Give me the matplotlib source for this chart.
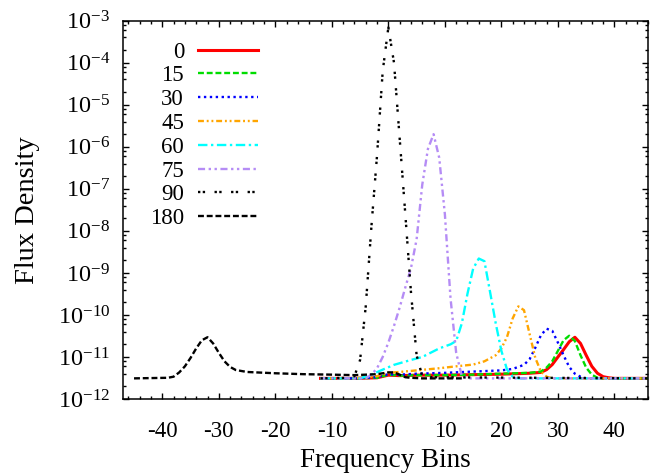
import matplotlib
matplotlib.use("Agg")
import matplotlib.pyplot as plt
from matplotlib.ticker import MultipleLocator, LogLocator, LogFormatterMathtext, NullFormatter

plt.rcParams['font.family'] = ['Liberation Serif', 'DejaVu Serif']
plt.rcParams['mathtext.fontset'] = 'custom'
plt.rcParams['mathtext.rm'] = 'Liberation Serif'
plt.rcParams['mathtext.it'] = 'Liberation Serif:italic'
plt.rcParams['mathtext.bf'] = 'Liberation Serif:bold'
plt.rcParams['axes.unicode_minus'] = False

# --- data (frequency bin, flux density) ---
x_0 = [-12, -6, -2, 0, 2, 5, 10, 15, 20, 25, 27, 28, 29, 30, 31, 32, 33, 34, 35, 36, 37, 38, 39, 40, 46]
y_0 = [3.1e-12, 3.1e-12, 3.2e-12, 3.7e-12, 3.6e-12, 3.7e-12, 3.7e-12, 3.8e-12, 3.9e-12, 4.1e-12,
       4.3e-12, 5.0e-12, 6.6e-12, 1.0e-11, 1.5e-11, 2.3e-11, 2.95e-11, 2.1e-11, 1.1e-11, 6.0e-12,
       4.1e-12, 3.4e-12, 3.2e-12, 3.1e-12, 3.1e-12]

x_15 = [-12, -6, -2, 0, 2, 5, 10, 15, 20, 25, 27, 28, 29, 30, 31, 32, 33, 34, 35, 36, 37, 38, 46]
y_15 = [3.1e-12, 3.1e-12, 3.2e-12, 3.8e-12, 3.6e-12, 3.7e-12, 3.7e-12, 3.8e-12, 4.0e-12, 4.2e-12,
        4.5e-12, 5.6e-12, 7.9e-12, 1.4e-11, 2.5e-11, 3.2e-11, 2.4e-11, 1.1e-11, 5.6e-12, 3.8e-12,
        3.2e-12, 3.1e-12, 3.1e-12]

x_30 = [-12, -6, -2, 0, 2, 5, 10, 15, 20, 22, 24, 25, 26, 27, 28, 29, 30, 31, 32, 33, 34, 35, 46]
y_30 = [3.1e-12, 3.1e-12, 3.3e-12, 3.9e-12, 3.8e-12, 4.0e-12, 4.2e-12, 4.5e-12, 4.8e-12, 5.2e-12,
        6.5e-12, 8.9e-12, 1.66e-11, 3.3e-11, 4.7e-11, 4.2e-11, 2.2e-11, 1.1e-11, 5.8e-12, 4.0e-12,
        3.4e-12, 3.1e-12, 3.1e-12]

x_45 = [-12, -6, -2, 0, 2, 5, 9, 12, 15, 17, 19, 20, 21, 22, 23, 24, 25, 26, 27, 28, 29, 46]
y_45 = [3.1e-12, 3.1e-12, 3.5e-12, 4.2e-12, 4.4e-12, 4.8e-12, 5.4e-12, 6.0e-12, 6.6e-12, 7.9e-12,
        1.1e-11, 1.6e-11, 3.0e-11, 8.3e-11, 1.6e-10, 1.3e-10, 3.5e-11, 9.5e-12, 4.5e-12, 3.4e-12,
        3.1e-12, 3.1e-12]

x_60 = [-12, -5, -3, -1, 1, 4, 6, 9, 11, 12, 13, 14, 15, 16, 17, 18, 19, 20, 21, 22, 23, 46]
y_60 = [3.1e-12, 3.1e-12, 3.8e-12, 5.0e-12, 6.5e-12, 8.5e-12, 1.0e-11, 1.6e-11, 2.0e-11, 2.4e-11,
        6.3e-11, 3.2e-10, 1.26e-9, 2.2e-9, 1.9e-9, 3.5e-10, 6.3e-11, 1.4e-11, 5.0e-12, 3.4e-12,
        3.1e-12, 3.1e-12]

x_75 = [-12, -4, -3, -2, -1, 0, 1, 2, 3, 4, 5, 6, 7, 8, 9, 10, 11, 12, 13, 14, 46]
y_75 = [3.1e-12, 3.1e-12, 3.8e-12, 5.4e-12, 1.0e-11, 2.2e-11, 5.5e-11, 1.5e-10, 4.5e-10, 1.3e-9,
        6.3e-9, 1.26e-7, 8.9e-7, 2.0e-6, 5.5e-7, 2.5e-8, 2.5e-10, 1.26e-11, 3.5e-12, 3.1e-12, 3.1e-12]

x_90 = [-12, -7, -6, -5, -4, -3, -2, -1, 0, 1, 2, 3, 4, 5, 6, 7, 46]
y_90 = [3.1e-12, 3.2e-12, 3.5e-12, 8.5e-12, 1.6e-10, 1.26e-8, 6.3e-7, 6.3e-5, 6.9e-4, 1.0e-4,
        1.6e-6, 2.5e-8, 3.5e-10, 1.1e-11, 3.5e-12, 3.3e-12, 3.1e-12]

x_180 = [-45, -39, -38, -37, -36, -35, -34, -33, -32, -31, -30, -29, -28, -27, -25, -20, -15, -10,
         -6, -2, 0, 1, 2, 3, 4, 6, 13]
y_180 = [3.1e-12, 3.2e-12, 3.4e-12, 4.3e-12, 6.0e-12, 9.5e-12, 1.6e-11, 2.5e-11, 2.95e-11, 2.1e-11,
         1.26e-11, 7.9e-12, 5.8e-12, 4.9e-12, 4.4e-12, 4.1e-12, 3.9e-12, 3.8e-12, 3.7e-12, 3.9e-12,
         4.3e-12, 4.3e-12, 3.8e-12, 3.3e-12, 3.2e-12, 3.1e-12, 3.1e-12]

labels = ['0', '15', '30', '45', '60', '75', '90', '180']
xs = [x_0, x_15, x_30, x_45, x_60, x_75, x_90, x_180]
ys = [y_0, y_15, y_30, y_45, y_60, y_75, y_90, y_180]

colors = ['#ff0000', '#00dd00', '#0000ff', '#ffa500', '#00ffff', '#b58cf5', '#000000', '#000000']
dashes = [None, (2.5, 1.2), (1, 1.5), (2.5, 1.2, 0.8, 1.2, 0.8, 1.2), (4, 1.5, 1, 1.5),
          (3, 1.5, 1, 1.5, 1, 1.5), (1, 1, 1, 4), (2.5, 1.2)]
widths = [2.2, 1.7, 1.7, 1.7, 1.7, 1.7, 1.7, 1.7]

fig = plt.figure(figsize=(6.57, 4.73), dpi=100)
ax = fig.add_axes([0.1868, 0.1564, 0.80, 0.7998])

for x, y, lab, c, d, w in zip(xs, ys, labels, colors, dashes, widths):
    line, = ax.plot(x, y, color=c, lw=w, label=lab)
    if d is not None:
        line.set_dashes(d)

ax.set_yscale('log')
ax.set_xlim(-47, 46)
ax.set_ylim(1e-12, 1e-3)

ax.xaxis.set_major_locator(MultipleLocator(10))
ax.xaxis.set_minor_locator(MultipleLocator(2))
ax.yaxis.set_major_locator(LogLocator(base=10, numticks=20))
ax.yaxis.set_minor_locator(LogLocator(base=10, subs=[2, 4, 6, 8], numticks=20))
ax.yaxis.set_major_formatter(LogFormatterMathtext())
ax.yaxis.set_minor_formatter(NullFormatter())

ax.tick_params(which='both', direction='in', top=True, right=True)
ax.tick_params(axis='x', labelsize=16.5)
ax.tick_params(axis='y', labelsize=17.5)
ax.tick_params(which='major', length=4, width=1)
ax.tick_params(which='minor', length=2.2, width=1)
ax.tick_params(axis='x', which='major', pad=16)
ax.tick_params(axis='y', which='major', pad=9)
for s in ax.spines.values():
    s.set_linewidth(1.1)

ax.set_xlabel('Frequency Bins', fontsize=19.5)
ax.set_ylabel('Flux Density', fontsize=20.5)
ax.xaxis.set_label_coords(0.5, -0.13)
ax.yaxis.set_label_coords(-0.158, 0.5)

ax.legend(loc='upper right', bbox_to_anchor=(0.257, 0.945), frameon=False, markerfirst=False,
          fontsize=16.5, handlelength=2.6, handletextpad=0.62, labelspacing=0.12, borderpad=0,
          borderaxespad=0)

fig.savefig('out.png', dpi=100)
